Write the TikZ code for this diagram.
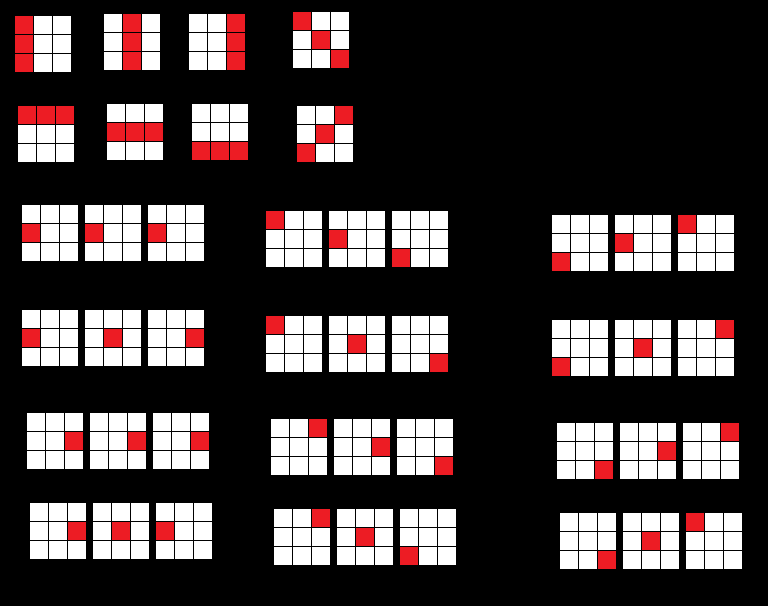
\documentclass[tikz,border=0pt]{standalone}
\definecolor{cellred}{HTML}{ED1C24}
\newcommand\cellgrid[3]{%
  \foreach \r in {0,1,2}{\foreach \c in {0,1,2}{%
    \fill[white] ({#1+19*\c},{#2+19*\r}) rectangle ++(18,18);}}%
  \foreach \r/\c in {#3}{%
    \fill[cellred] ({#1+19*\c},{#2+19*\r}) rectangle ++(18,18);}%
}
\begin{document}
\begin{tikzpicture}[x=1pt,y=-1pt]
\fill[black] (0,0) rectangle (768,606);
\useasboundingbox (0,0) rectangle (768,606);
% top block
\cellgrid{15}{16}{0/0,1/0,2/0}
\cellgrid{104}{14}{0/1,1/1,2/1}
\cellgrid{189}{14}{0/2,1/2,2/2}
\cellgrid{293}{12}{0/0,1/1,2/2}
\cellgrid{18}{106}{0/0,0/1,0/2}
\cellgrid{107}{104}{1/0,1/1,1/2}
\cellgrid{192}{104}{2/0,2/1,2/2}
\cellgrid{297}{106}{0/2,1/1,2/0}
% left column
\cellgrid{22}{205}{1/0}
\cellgrid{85}{205}{1/0}
\cellgrid{148}{205}{1/0}
\cellgrid{22}{310}{1/0}
\cellgrid{85}{310}{1/1}
\cellgrid{148}{310}{1/2}
\cellgrid{27}{413}{1/2}
\cellgrid{90}{413}{1/2}
\cellgrid{153}{413}{1/2}
\cellgrid{30}{503}{1/2}
\cellgrid{93}{503}{1/1}
\cellgrid{156}{503}{1/0}
% middle column
\cellgrid{266}{211}{0/0}
\cellgrid{329}{211}{1/0}
\cellgrid{392}{211}{2/0}
\cellgrid{266}{316}{0/0}
\cellgrid{329}{316}{1/1}
\cellgrid{392}{316}{2/2}
\cellgrid{271}{419}{0/2}
\cellgrid{334}{419}{1/2}
\cellgrid{397}{419}{2/2}
\cellgrid{274}{509}{0/2}
\cellgrid{337}{509}{1/1}
\cellgrid{400}{509}{2/0}
% right column
\cellgrid{552}{215}{2/0}
\cellgrid{615}{215}{1/0}
\cellgrid{678}{215}{0/0}
\cellgrid{552}{320}{2/0}
\cellgrid{615}{320}{1/1}
\cellgrid{678}{320}{0/2}
\cellgrid{557}{423}{2/2}
\cellgrid{620}{423}{1/2}
\cellgrid{683}{423}{0/2}
\cellgrid{560}{513}{2/2}
\cellgrid{623}{513}{1/1}
\cellgrid{686}{513}{0/0}
\end{tikzpicture}
\end{document}
